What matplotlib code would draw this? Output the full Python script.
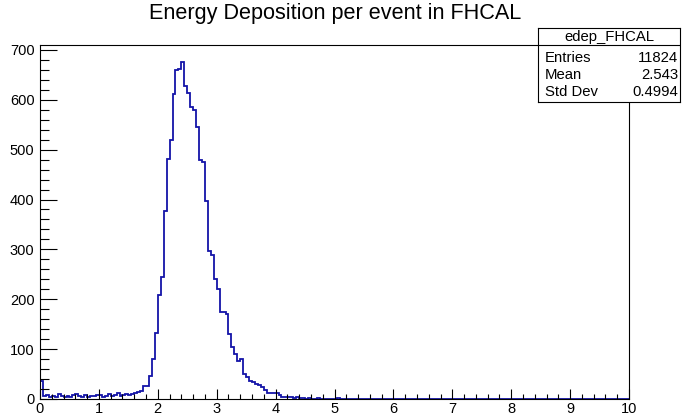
import numpy as np
import matplotlib.pyplot as plt
from matplotlib.ticker import MultipleLocator

# histogram binning: 200 bins on [0, 10]
n_bins = 200
x_min, x_max = 0.0, 10.0

# bin contents, read bin by bin from the left
low_counts = [37, 6, 8, 4, 7, 5, 11, 6, 5, 7, 4, 9, 10, 6, 5, 8, 4, 7, 6, 9,
              8, 5, 7, 10, 6, 8, 12, 7, 9, 10, 8, 10, 13, 14]
peak_counts = [17, 27, 27, 47, 81, 132, 208, 244, 376, 482, 520, 612, 660, 662,
               676, 627, 613, 585, 580, 545, 480, 476, 397, 296, 288, 241, 221,
               174, 174, 171, 131, 104, 91, 76, 81, 50, 45, 37, 34, 30, 28, 24,
               18, 12, 12, 12, 12, 8, 5, 5, 5]
tail_counts = [4, 3, 4, 2, 3, 1, 2, 1, 1, 2, 1, 0, 1, 0, 0, 1, 2, 1, 0, 0, 1,
               0, 0, 0, 0, 1]

counts = low_counts + peak_counts + tail_counts
counts = np.array(counts + [0] * (n_bins - len(counts)), dtype=float)
edges = np.linspace(x_min, x_max, n_bins + 1)

hist_name = "edep_FHCAL"
stat_labels = ["Entries", "Mean", "Std Dev"]
stat_values = ["11824", "2.543", "0.4994"]
title = "Energy Deposition per event in FHCAL"

plt.rcParams['font.family'] = ['Liberation Sans', 'DejaVu Sans']

W, H = 685, 417
fig = plt.figure(figsize=(W / 100, H / 100), dpi=100)
fig.patch.set_facecolor('white')

# frame in pixel coords: x 40..629, y 45..399 (from top)
ax = fig.add_axes([40 / W, (H - 399) / H, 589 / W, 354 / H])
ax.stairs(counts, edges, color='#1414a8', lw=1.3, baseline=0)

ax.set_xlim(x_min, x_max)
ax.set_ylim(0, 1.05 * counts.max())

ax.xaxis.set_major_locator(MultipleLocator(1))
ax.xaxis.set_minor_locator(MultipleLocator(0.2))
ax.yaxis.set_major_locator(MultipleLocator(100))
ax.yaxis.set_minor_locator(MultipleLocator(20))

ax.tick_params(axis='x', which='major', direction='in', length=7.2, width=0.8,
               labelsize=10.5, pad=2.5)
ax.tick_params(axis='x', which='minor', direction='in', length=3.6, width=0.8)
ax.tick_params(axis='y', which='major', direction='in', length=12, width=0.8,
               labelsize=10.5, pad=4)
ax.tick_params(axis='y', which='minor', direction='in', length=6.3, width=0.8)
for sp in ax.spines.values():
    sp.set_linewidth(0.8)

fig.text(335 / W, 1 - 14 / H, title, ha='center', va='center', fontsize=15.6)

# stats box
bx0, bx1, by0, by1 = 538, 680, 28, 102
sb = fig.add_axes([bx0 / W, (H - by1) / H, (bx1 - bx0) / W, (by1 - by0) / H])
sb.set_xlim(bx0, bx1)
sb.set_ylim(by1, by0)
sb.set_xticks([])
sb.set_yticks([])
for sp in sb.spines.values():
    sp.set_linewidth(0.8)
sb.axhline(45, color='black', lw=0.8)
sb.text((bx0 + bx1) / 2, 37, hist_name, ha='center', va='center', fontsize=10.7)
for k, (lab, val) in enumerate(zip(stat_labels, stat_values)):
    yy = 57.5 + k * 17.5
    sb.text(545, yy, lab, ha='left', va='center', fontsize=10.7)
    sb.text(678, yy, val, ha='right', va='center', fontsize=10.7)

fig.savefig('out.png', dpi=100)
